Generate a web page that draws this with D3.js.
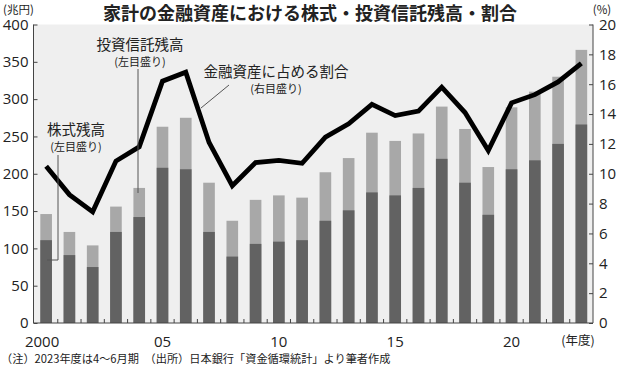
<!DOCTYPE html>
<html>
<head>
<meta charset="utf-8">
<script src="https://cdn.jsdelivr.net/npm/d3@7"></script>
<style>
  body { margin: 0; background: #fff; }
  svg text { font-family: "Noto Sans CJK JP", "Noto Sans", sans-serif; fill: #222; }
  .tick text { font-family: "Open Sans", "Noto Sans", sans-serif; font-size: 15px; }
</style>
</head>
<body>
<svg width="620" height="368"></svg>
<script>
// data
const years = d3.range(2000, 2024);
const stocks = [111, 91, 75, 122, 142, 208, 206, 122, 89, 106, 109, 111, 137, 151, 175, 171, 181, 220, 188, 145, 206, 218, 240, 266];
const funds = [146, 122, 104, 156, 181, 263, 275, 188, 137, 165, 171, 168, 202, 221, 255, 244, 254, 290, 260, 209, 289, 310, 330, 366];
const ratio = [10.5, 8.6, 7.45, 10.85, 11.8, 16.2, 16.8, 12.1, 9.2, 10.75, 10.9, 10.7, 12.45, 13.35, 14.65, 13.9, 14.2, 15.8, 14.1, 11.55, 14.75, 15.3, 16.15, 17.4];
const xLabels = {2000: "2000", 2005: "05", 2010: "10", 2015: "15", 2020: "20"};

const svg = d3.select("svg");
const mLeft = 33.5, mRight = 593, mTop = 24.5, mBottom = 323;

const x = d3.scaleBand().domain(years).range([mLeft + 1, mRight]).paddingInner(0.5).paddingOuter(0.25);
const yL = d3.scaleLinear().domain([0, 400]).range([mBottom, mTop]);
const yR = d3.scaleLinear().domain([0, 20]).range([mBottom, mTop]);

// plot background
svg.append("rect")
  .attr("x", mLeft).attr("y", mTop)
  .attr("width", mRight - mLeft).attr("height", mBottom - mTop)
  .attr("fill", "#efefef");

// bars: total (light) then stock part (dark)
svg.append("g").selectAll("rect").data(years).join("rect")
  .attr("x", d => x(d)).attr("width", x.bandwidth())
  .attr("y", (d, i) => yL(funds[i])).attr("height", (d, i) => mBottom - yL(funds[i]))
  .attr("fill", "#a8a8a8");
svg.append("g").selectAll("rect").data(years).join("rect")
  .attr("x", d => x(d)).attr("width", x.bandwidth())
  .attr("y", (d, i) => yL(stocks[i])).attr("height", (d, i) => mBottom - yL(stocks[i]))
  .attr("fill", "#626262");

// ratio line
const line = d3.line()
  .x((d, i) => x(years[i]) + x.bandwidth() / 2)
  .y(d => yR(d));
svg.append("path").datum(ratio)
  .attr("d", line)
  .attr("fill", "none").attr("stroke", "#000")
  .attr("stroke-width", 4.8).attr("stroke-linejoin", "miter");

// axes
const axL = svg.append("g").attr("transform", `translate(${mLeft},0)`)
  .call(d3.axisLeft(yL).tickValues(d3.range(0, 401, 50)).tickSize(-4).tickPadding(5));
const axR = svg.append("g").attr("transform", `translate(${mRight},0)`)
  .call(d3.axisRight(yR).tickValues(d3.range(0, 21, 2)).tickSize(-4).tickPadding(6));
[axL, axR].forEach(g => {
  g.select(".domain").attr("stroke", "#444").attr("stroke-width", 1).attr("d", `M0,${mTop}V${mBottom}`);
  g.selectAll(".tick line").attr("stroke", "#444");
});

// bottom baseline with ticks at band boundaries
const step = x.step();
const bounds = years.slice(1).map(d => x(d) - (step - x.bandwidth()) / 2);
svg.append("line").attr("x1", mLeft).attr("x2", mRight).attr("y1", mBottom).attr("y2", mBottom)
  .attr("stroke", "#444");
svg.append("g").selectAll("line").data(bounds).join("line")
  .attr("x1", d => d).attr("x2", d => d).attr("y1", mBottom).attr("y2", mBottom - 4)
  .attr("stroke", "#444");

svg.append("g").selectAll("text").data(years.filter(d => xLabels[d])).join("text")
  .attr("x", d => x(d) + x.bandwidth() / 2 - (d === 2000 ? 4 : 0))
  .attr("y", 347)
  .attr("text-anchor", "middle")
  .style("font-family", '"Open Sans", "Noto Sans", sans-serif')
  .style("font-size", "15px")
  .text(d => xLabels[d]);

svg.append("text").attr("x", 578).attr("y", 345).attr("text-anchor", "middle")
  .style("font-size", "12.5px").text("(年度)");

// title and units
svg.append("text").attr("x", 310).attr("y", 20).attr("text-anchor", "middle")
  .style("font-size", "18px").style("font-weight", "bold").text("家計の金融資産における株式・投資信託残高・割合");
svg.append("text").attr("x", 3).attr("y", 14)
  .style("font-size", "11.5px").text("(兆円)");
svg.append("text").attr("x", 602).attr("y", 14).attr("text-anchor", "middle")
  .style("font-size", "11.5px").text("(%)");

// annotations
function label(cx, cy, main, sub) {
  svg.append("text").attr("x", cx).attr("y", cy).attr("text-anchor", "middle")
    .style("font-size", "14.5px").text(main);
  svg.append("text").attr("x", cx).attr("y", cy + 16).attr("text-anchor", "middle")
    .style("font-size", "11px").text(sub);
}
label(140, 50, "投資信託残高", "(左目盛り)");
label(76, 135, "株式残高", "(左目盛り)");
label(276, 77, "金融資産に占める割合", "(右目盛り)");

const lead = svg.append("g").attr("fill", "none").attr("stroke", "#555").attr("stroke-width", 1);
lead.append("path").attr("d", "M138,69V193");
lead.append("path").attr("d", "M58,155V260H47");
lead.append("path").attr("d", "M229,85L201,108");

// footer
svg.append("text").attr("x", 1).attr("y", 363)
  .style("font-size", "11.2px")
  .text("（注）2023年度は4～6月期　（出所）日本銀行「資金循環統計」より筆者作成");
</script>
</body>
</html>
